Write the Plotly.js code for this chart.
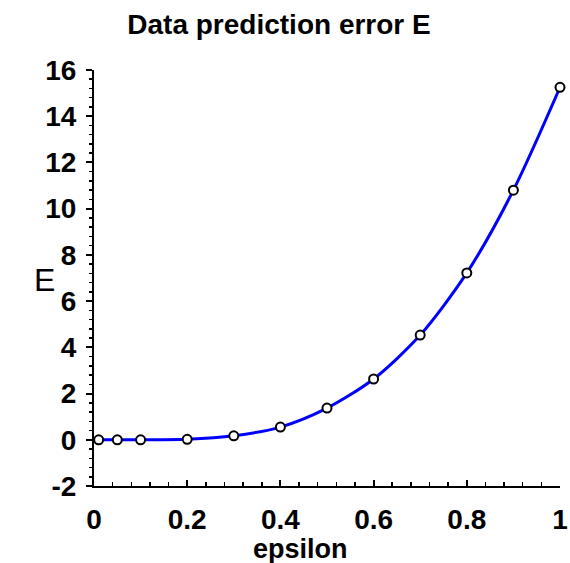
<!DOCTYPE html>
<html>
<head>
<meta charset="utf-8">
<script src="https://cdn.plot.ly/plotly-3.0.1.min.js"></script>
<style>html,body{margin:0;padding:0;background:#fff;}#chart{width:570px;height:563px;}</style>
</head>
<body>
<div id="chart"></div>
<script>
const epsilon = [0.01, 0.05, 0.1, 0.2, 0.3, 0.4, 0.5, 0.6, 0.7, 0.8, 0.9, 1.0];
const errorE  = [0.0, 0.0, 0.0, 0.02, 0.17, 0.55, 1.37, 2.63, 4.53, 7.22, 10.8, 15.25];
const curveStartX = [0];
const curveStartY = [0];
const xTickVals = [0, 0.2, 0.4, 0.6, 0.8, 1];
const xTickText = ['0', '0.2', '0.4', '0.6', '0.8', '1'];
const yTickVals = [-2, 0, 2, 4, 6, 8, 10, 12, 14, 16];
const yTickText = ['-2', '0', '2', '4', '6', '8', '10', '12', '14', '16'];

const curveX = curveStartX.concat(epsilon);
const curveY = curveStartY.concat(errorE);

const tickFont = {family: 'Liberation Sans, Arial, sans-serif', size: 28, color: '#000', weight: 'bold'};

const traces = [
  {x: curveX, y: curveY, mode: 'lines', line: {color: '#0000ff', width: 3, shape: 'spline', smoothing: 0.8},
   hoverinfo: 'skip', cliponaxis: false},
  {x: epsilon, y: errorE, mode: 'markers', cliponaxis: false,
   marker: {symbol: 'circle', size: 9, color: '#ffffff', line: {color: '#000000', width: 2}}}
];

const layout = {
  width: 570, height: 563,
  margin: {l: 94, r: 10, t: 70, b: 77},
  paper_bgcolor: '#fff', plot_bgcolor: '#fff',
  showlegend: false,
  title: {text: 'Data prediction error E', xref: 'container', yref: 'container',
          x: 279/570, xanchor: 'center', y: 1 - 14/563, yanchor: 'top',
          font: {family: 'Liberation Sans, Arial, sans-serif', size: 28, color: '#000', weight: 'bold'}},
  xaxis: {range: [0, 1], tickvals: xTickVals, ticktext: xTickText, ticks: 'inside', ticklen: 6, tickwidth: 2, tickcolor: '#000',
          showline: true, linecolor: '#000', linewidth: 2, showgrid: false, zeroline: false,
          tickfont: tickFont, ticklabelstandoff: 7,
          minor: {dtick: 0.04, tick0: 0, ticks: 'inside', ticklen: 4, tickwidth: 1.5, tickcolor: '#000', showgrid: false}},
  yaxis: {range: [-2, 16], tickvals: yTickVals, ticktext: yTickText, ticks: 'outside', ticklen: 6, tickwidth: 2, tickcolor: '#000',
          showline: true, linecolor: '#000', linewidth: 2, showgrid: false, zeroline: false,
          tickfont: tickFont, ticklabelstandoff: 4,
          minor: {dtick: 0.4, tick0: 0, ticks: 'outside', ticklen: 3, tickwidth: 1.5, tickcolor: '#000', showgrid: false}},
  annotations: [
    {text: 'E', xref: 'paper', yref: 'paper', x: (44-94)/466, y: (486-280)/416, xanchor: 'center', yanchor: 'middle', showarrow: false,
     font: {family: 'Liberation Sans, Arial, sans-serif', size: 32, color: '#000'}},
    {text: 'epsilon', xref: 'paper', yref: 'paper', x: (300-94)/466, y: (486-549)/416, xanchor: 'center', yanchor: 'middle', showarrow: false,
     font: {family: 'Liberation Sans, Arial, sans-serif', size: 27, color: '#000', weight: 'bold'}}
  ]
};

Plotly.newPlot('chart', traces, layout, {displayModeBar: false, staticPlot: true});
</script>
</body>
</html>
